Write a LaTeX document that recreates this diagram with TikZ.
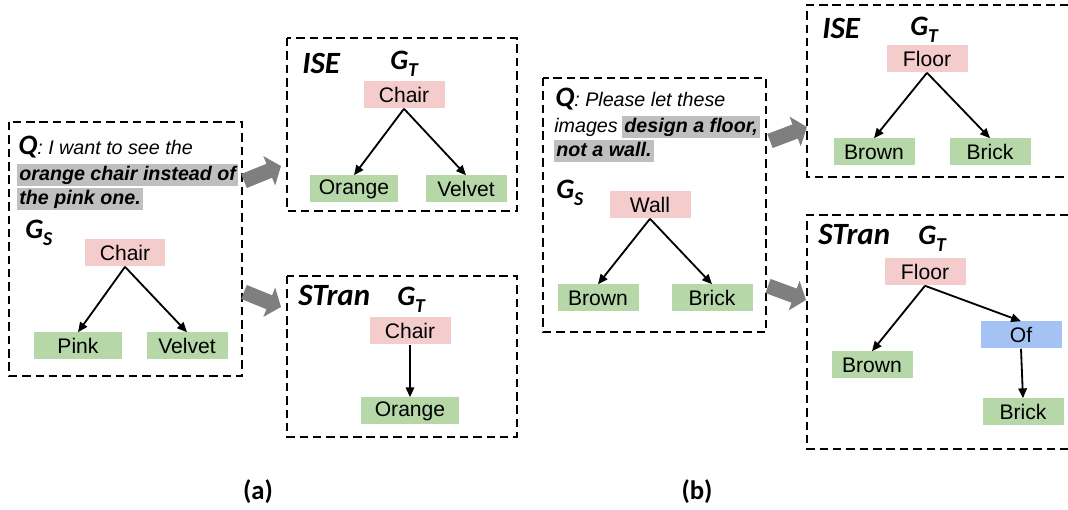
\documentclass[tikz,border=0pt]{standalone}
\usepackage{fontspec}
\setmainfont{Liberation Sans}
\newfontfamily\calib{Carlito}
\usetikzlibrary{arrows.meta,positioning}

\definecolor{objpink}{HTML}{F4CCCC}
\definecolor{attrgreen}{HTML}{B6D7A8}
\definecolor{relblue}{HTML}{A4C2F4}
\definecolor{hlgray}{HTML}{BFBFBF}
\definecolor{arrowgray}{HTML}{7F7F7F}

\newcommand{\gname}[1]{{\calib\bfseries\itshape\fontsize{20}{20}\selectfont G\raisebox{-0.45ex}{\fontsize{14}{14}\selectfont #1}}}
\newcommand{\qmark}{{\calib\bfseries\itshape\fontsize{20}{20}\selectfont Q}}

\begin{document}
\begin{tikzpicture}[
                    x=0.025cm, y=-0.025cm,
                    gnode/.style={
                        rectangle,
                        minimum width=57.6pt,
                        minimum height=19.2pt,
                        inner sep=0pt,
                        font=\fontsize{15}{15}\selectfont
                    },
                    obj/.style={gnode, fill=objpink},
                    attr/.style={gnode, fill=attrgreen},
                    rel/.style={gnode, fill=relblue},
                    link/.style={line width=1.3pt, -{Triangle[length=7pt,width=6pt]}},
                    dashbox/.style={line width=1.3pt, dash pattern=on 6pt off 3.5pt},
                    bigarrow/.style={draw=arrowgray, line width=10.7pt, -{Triangle[length=9pt,width=22pt]}},
                    qline/.style={anchor=base west, inner sep=0pt, font=\fontsize{14}{14}\selectfont\itshape},
                    hl/.style={qline, fill=hlgray, inner xsep=1.5pt, text height=12pt, text depth=3.5pt,
                        font=\fontsize{14}{14}\selectfont\bfseries\itshape},
                    method/.style={anchor=base west, inner sep=0pt, font=\calib\bfseries\itshape\fontsize{22}{22}\selectfont},
                    tag/.style={anchor=base west, inner sep=0pt},
                    caption/.style={inner sep=0pt, font=\calib\bfseries\fontsize{19}{19}\selectfont}
                ]
                    \useasboundingbox (0,0) rectangle (1068,510);

                    % Frames
                    \draw[dashbox] (9,122) rectangle (242,376);
                    \draw[dashbox] (287,38) rectangle (517,211);
                    \draw[dashbox] (287,276) rectangle (517,437);
                    \draw[dashbox] (543,78) rectangle (766,332);
                    \draw[dashbox] (1068,5) -| (807,177) -- (1068,177);
                    \draw[dashbox] (1068,215) -| (807,449) -- (1068,449);

                    % (a) query and source graph
                    \node[qline] (qa1) at (18,155) {\qmark: I want to see the};
                    \node[hl] (qa2) at (17,181) {orange chair instead of};
                    \node[hl] (qa3) at (17,205) {the pink one.};
                    \node[tag] (gsa) at (25,239) {\gname{S}};
                    \node[obj] (chairs) at (125,253) {Chair};
                    \node[attr, minimum width=63pt] (pink) at (78,346) {Pink};
                    \node[attr] (velvets) at (187,346) {Velvet};

                    % (a) ISE
                    \node[method] (isea) at (302,74) {ISE};
                    \node[tag] (gta1) at (390,70) {\gname{T}};
                    \node[obj] (chairt1) at (404,95) {Chair};
                    \node[attr, minimum width=62.5pt] (orange1) at (354,189) {Orange};
                    \node[attr] (velvett1) at (466,189) {Velvet};

                    % (a) STran
                    \node[method] (strana) at (298,306) {STran};
                    \node[tag] (gta2) at (397,306) {\gname{T}};
                    \node[obj] (chairt2) at (410,331) {Chair};
                    \node[attr, minimum width=69pt] (orange2) at (410,411) {Orange};

                    % (b) query and source graph
                    \node[qline] (qb1) at (555,107) {\qmark: Please let these};
                    \node[qline] (qb2) at (554,133) {images};
                    \node[hl] (qb3) at (622,133) {design a floor,};
                    \node[hl] (qb4) at (554,157) {not a wall.};
                    \node[tag] (gsb) at (556,199) {\gname{S}};
                    \node[obj] (wall) at (650,205) {Wall};
                    \node[attr] (browns) at (598,298) {Brown};
                    \node[attr] (bricks) at (712,298) {Brick};

                    % (b) ISE
                    \node[method] (iseb) at (822,39) {ISE};
                    \node[tag] (gtb1) at (910,36) {\gname{T}};
                    \node[obj] (floor1) at (927,59) {Floor};
                    \node[attr] (brown1) at (874,152) {Brown};
                    \node[attr] (brick1) at (990,152) {Brick};

                    % (b) STran
                    \node[method] (stranb) at (818,245) {STran};
                    \node[tag] (gtb2) at (918,245) {\gname{T}};
                    \node[obj] (floor2) at (925,272) {Floor};
                    \node[rel] (of) at (1021,335) {Of};
                    \node[attr] (brown2) at (872,365) {Brown};
                    \node[attr] (brick2) at (1023,412) {Brick};

                    % Captions
                    \node[caption] (capa) at (258,492) {(a)};
                    \node[caption] (capb) at (697,492) {(b)};

                    % Edges
                    \draw[link] (chairs.south) -- (pink.north);
                    \draw[link] (chairs.south) -- (velvets.north);
                    \draw[link] (chairt1.south) -- (orange1.north);
                    \draw[link] (chairt1.south) -- (velvett1.north);
                    \draw[link] (chairt2.south) -- (orange2.north);
                    \draw[link] (wall.south) -- (browns.north);
                    \draw[link] (wall.south) -- (bricks.north);
                    \draw[link] (floor1.south) -- (brown1.north);
                    \draw[link] (floor1.south) -- (brick1.north);
                    \draw[link] (floor2.south) -- (brown2.north);
                    \draw[link] (floor2.south) -- (of.north);
                    \draw[link] (of.south) -- (brick2.north);

                    % Block arrows
                    \coordinate (a1s) at (244,181);
                    \coordinate (a1t) at (281,166);
                    \coordinate (a2s) at (244,292);
                    \coordinate (a2t) at (281,307);
                    \coordinate (b1s) at (770,141);
                    \coordinate (b1t) at (807,127);
                    \coordinate (b2s) at (768,286);
                    \coordinate (b2t) at (806,300);
                    \draw[bigarrow] (a1s) -- (a1t);
                    \draw[bigarrow] (a2s) -- (a2t);
                    \draw[bigarrow] (b1s) -- (b1t);
                    \draw[bigarrow] (b2s) -- (b2t);
                \end{tikzpicture}
\end{document}
